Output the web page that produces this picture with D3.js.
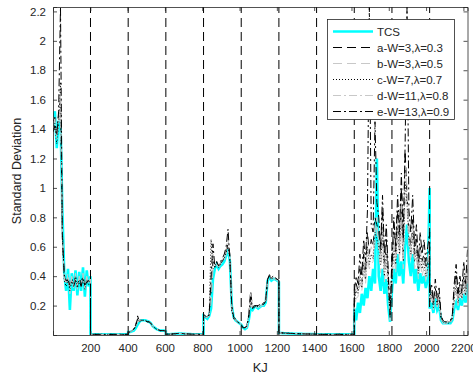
<!DOCTYPE html>
<html><head><meta charset="utf-8">
<script src="https://cdn.jsdelivr.net/npm/d3@7"></script>
<style>body{margin:0;background:#fff}svg{display:block}text{font-family:"Liberation Sans",Arial,Helvetica,sans-serif;fill:#262626}</style>
</head><body>
<svg id="c" width="473" height="378"></svg>
<script>
// segment boundaries on KJ axis (vertical dashed lines at inner ones)
const segBounds = [0,201,403,605,807,1009,1211,1413,1615,1817,2019,2222];
const xTicks = [200,400,600,800,1000,1200,1400,1600,1800,2000,2200];
const yTicks = [0.2,0.4,0.6,0.8,1.0,1.2,1.4,1.6,1.8,2.0,2.2];
const seriesNames = ["TCS","a-W=3,\u03bb=0.3","b-W=3,\u03bb=0.5","c-W=7,\u03bb=0.7","d-W=11,\u03bb=0.8","e-W=13,\u03bb=0.9"];

// 21 samples per segment, 11 segments
const tcs = [
1.48,1.52,1.27,1.45,1.45,0.85,0.42,0.30,0.45,0.17,0.42,0.30,0.44,0.27,0.43,0.30,0.46,0.26,0.44,0.33,0.40,
0.005,0.004,0.004,0.005,0.004,0.004,0.004,0.005,0.004,0.004,0.004,0.004,0.005,0.004,0.004,0.004,0.004,0.005,0.004,0.004,0.004,
0.02,0.02,0.025,0.03,0.045,0.07,0.09,0.10,0.10,0.10,0.095,0.09,0.08,0.06,0.05,0.04,0.035,0.03,0.03,0.03,0.025,
0.006,0.005,0.005,0.006,0.007,0.008,0.009,0.010,0.010,0.009,0.008,0.007,0.006,0.006,0.005,0.005,0.005,0.004,0.004,0.004,0.004,
0.13,0.12,0.11,0.13,0.18,0.38,0.45,0.48,0.45,0.47,0.48,0.50,0.54,0.58,0.50,0.20,0.12,0.10,0.09,0.08,0.07,
0.07,0.05,0.04,0.05,0.10,0.18,0.17,0.19,0.19,0.18,0.19,0.20,0.20,0.22,0.37,0.39,0.37,0.38,0.38,0.37,0.36,
0.015,0.014,0.013,0.012,0.012,0.011,0.010,0.010,0.009,0.009,0.008,0.008,0.008,0.007,0.007,0.007,0.006,0.006,0.006,0.006,0.005,
0.005,0.005,0.005,0.004,0.004,0.005,0.004,0.004,0.004,0.004,0.005,0.004,0.004,0.004,0.004,0.004,0.004,0.005,0.004,0.004,0.004,
0.18,0.10,0.22,0.15,0.28,0.20,0.32,0.25,0.40,0.30,0.45,0.35,1.20,0.40,0.30,0.45,0.28,0.38,0.20,0.09,0.30,
0.30,0.45,0.35,0.55,0.40,0.50,0.35,0.60,0.75,0.50,0.40,0.55,0.35,0.45,0.30,0.42,0.35,0.40,0.32,0.38,1.00,
0.18,0.22,0.15,0.25,0.17,0.20,0.10,0.08,0.08,0.08,0.08,0.08,0.10,0.18,0.22,0.17,0.25,0.20,0.28,0.22,0.35];

const serA = [
1.45,1.48,1.35,1.50,1.60,0.70,0.40,0.36,0.40,0.32,0.38,0.34,0.40,0.33,0.39,0.35,0.41,0.33,0.38,0.36,0.38,
0.005,0.005,0.004,0.004,0.005,0.004,0.004,0.004,0.005,0.004,0.004,0.004,0.004,0.005,0.004,0.004,0.004,0.004,0.004,0.005,0.004,
0.02,0.02,0.03,0.04,0.06,0.13,0.09,0.10,0.10,0.10,0.09,0.09,0.08,0.06,0.05,0.04,0.035,0.03,0.03,0.03,0.025,
0.006,0.006,0.005,0.006,0.008,0.009,0.009,0.010,0.011,0.010,0.008,0.007,0.007,0.006,0.005,0.005,0.005,0.005,0.004,0.004,0.004,
0.13,0.12,0.12,0.14,0.30,0.50,0.48,0.47,0.46,0.49,0.50,0.53,0.57,0.62,0.55,0.18,0.11,0.10,0.09,0.08,0.07,
0.07,0.05,0.05,0.06,0.14,0.30,0.18,0.19,0.20,0.19,0.20,0.20,0.21,0.23,0.38,0.41,0.38,0.39,0.38,0.38,0.37,
0.015,0.014,0.013,0.013,0.012,0.011,0.011,0.010,0.010,0.009,0.009,0.008,0.008,0.008,0.007,0.007,0.007,0.006,0.006,0.006,0.005,
0.005,0.004,0.005,0.004,0.004,0.004,0.005,0.004,0.004,0.004,0.004,0.005,0.004,0.004,0.004,0.004,0.005,0.004,0.004,0.004,0.004,
0.25,0.35,0.30,0.45,0.35,0.55,0.42,0.70,0.55,0.65,0.60,0.80,0.75,0.70,0.55,0.85,0.45,0.65,0.40,0.15,0.45,
0.40,0.70,0.55,0.85,0.60,1.00,0.55,1.25,0.95,0.70,0.60,0.80,0.55,0.65,0.45,0.60,0.50,0.55,0.45,0.50,0.60,
0.25,0.30,0.20,0.32,0.22,0.28,0.12,0.09,0.08,0.08,0.09,0.09,0.12,0.30,0.42,0.25,0.35,0.28,0.40,0.30,0.45];

const serB = [
1.42,1.46,1.38,1.42,1.55,0.65,0.38,0.34,0.42,0.28,0.40,0.32,0.42,0.31,0.40,0.33,0.42,0.31,0.40,0.35,0.39,
0.005,0.004,0.005,0.004,0.004,0.005,0.004,0.004,0.004,0.005,0.004,0.004,0.004,0.004,0.005,0.004,0.004,0.004,0.005,0.004,0.004,
0.02,0.02,0.028,0.035,0.05,0.09,0.095,0.10,0.10,0.10,0.095,0.09,0.08,0.06,0.05,0.04,0.035,0.03,0.03,0.03,0.025,
0.006,0.005,0.006,0.006,0.007,0.008,0.010,0.010,0.010,0.009,0.008,0.007,0.006,0.006,0.005,0.005,0.005,0.004,0.004,0.004,0.004,
0.13,0.12,0.12,0.13,0.22,0.44,0.47,0.48,0.46,0.48,0.49,0.51,0.55,0.59,0.52,0.18,0.12,0.10,0.09,0.08,0.07,
0.07,0.05,0.05,0.05,0.12,0.24,0.18,0.19,0.19,0.19,0.19,0.20,0.20,0.22,0.37,0.40,0.38,0.38,0.38,0.37,0.36,
0.015,0.014,0.013,0.012,0.012,0.011,0.010,0.010,0.009,0.009,0.008,0.008,0.008,0.007,0.007,0.007,0.006,0.006,0.006,0.006,0.005,
0.005,0.005,0.004,0.004,0.005,0.004,0.004,0.004,0.005,0.004,0.004,0.004,0.004,0.005,0.004,0.004,0.004,0.004,0.005,0.004,0.004,
0.20,0.25,0.26,0.35,0.30,0.42,0.35,0.52,0.45,0.48,0.50,0.62,0.80,0.55,0.42,0.62,0.36,0.48,0.30,0.10,0.36,
0.34,0.55,0.42,0.68,0.50,0.75,0.45,0.92,0.85,0.60,0.50,0.65,0.45,0.52,0.38,0.50,0.40,0.46,0.36,0.42,0.80,
0.20,0.26,0.17,0.28,0.19,0.23,0.11,0.08,0.08,0.08,0.08,0.08,0.11,0.22,0.30,0.20,0.29,0.23,0.33,0.25,0.40];

const serC = [
1.40,1.44,1.30,1.42,1.72,0.68,0.37,0.33,0.38,0.30,0.37,0.35,0.38,0.32,0.36,0.34,0.39,0.31,0.37,0.34,0.37,
0.005,0.004,0.004,0.005,0.004,0.004,0.005,0.004,0.004,0.004,0.005,0.004,0.004,0.004,0.004,0.005,0.004,0.004,0.004,0.004,0.004,
0.02,0.02,0.03,0.04,0.06,0.10,0.10,0.10,0.10,0.10,0.09,0.09,0.08,0.06,0.05,0.04,0.035,0.03,0.03,0.03,0.025,
0.006,0.006,0.005,0.006,0.007,0.009,0.010,0.010,0.010,0.009,0.008,0.007,0.007,0.006,0.005,0.005,0.005,0.004,0.004,0.004,0.004,
0.13,0.12,0.13,0.13,0.65,0.45,0.47,0.49,0.46,0.48,0.51,0.52,0.56,0.60,0.52,0.16,0.12,0.10,0.09,0.08,0.07,
0.07,0.05,0.05,0.06,0.13,0.22,0.19,0.19,0.20,0.19,0.20,0.21,0.21,0.23,0.38,0.40,0.38,0.39,0.39,0.38,0.37,
0.015,0.014,0.014,0.013,0.012,0.012,0.011,0.010,0.010,0.009,0.009,0.008,0.008,0.008,0.007,0.007,0.006,0.006,0.006,0.006,0.005,
0.005,0.004,0.004,0.005,0.004,0.004,0.004,0.005,0.004,0.004,0.004,0.004,0.005,0.004,0.004,0.004,0.004,0.004,0.005,0.004,0.004,
0.22,0.30,0.28,0.40,0.32,0.50,0.38,0.60,0.48,0.55,0.52,0.70,0.65,0.60,0.48,0.70,0.40,0.55,0.35,0.12,0.40,
0.38,0.60,0.48,0.75,0.55,0.85,0.50,1.05,0.90,0.65,0.55,0.70,0.50,0.58,0.42,0.55,0.45,0.50,0.40,0.45,0.55,
0.22,0.28,0.18,0.30,0.20,0.25,0.11,0.09,0.08,0.08,0.08,0.09,0.11,0.25,0.35,0.22,0.30,0.25,0.35,0.27,0.40];

const serD = [
1.43,1.47,1.33,1.45,1.65,0.72,0.39,0.35,0.39,0.31,0.39,0.33,0.39,0.34,0.38,0.36,0.40,0.32,0.39,0.35,0.38,
0.005,0.005,0.004,0.004,0.004,0.005,0.004,0.004,0.004,0.004,0.005,0.004,0.004,0.004,0.005,0.004,0.004,0.004,0.004,0.005,0.004,
0.02,0.02,0.03,0.04,0.06,0.11,0.10,0.10,0.10,0.10,0.09,0.09,0.08,0.06,0.05,0.04,0.035,0.03,0.03,0.03,0.025,
0.006,0.006,0.005,0.006,0.008,0.009,0.010,0.010,0.011,0.010,0.008,0.007,0.007,0.006,0.005,0.005,0.005,0.004,0.004,0.004,0.004,
0.13,0.12,0.12,0.14,0.35,0.55,0.47,0.48,0.47,0.49,0.51,0.54,0.58,0.66,0.52,0.19,0.12,0.10,0.09,0.08,0.07,
0.07,0.05,0.05,0.06,0.13,0.28,0.19,0.20,0.20,0.20,0.20,0.21,0.22,0.24,0.38,0.40,0.39,0.39,0.39,0.38,0.37,
0.015,0.014,0.013,0.013,0.012,0.011,0.011,0.010,0.010,0.009,0.009,0.008,0.008,0.008,0.007,0.007,0.007,0.006,0.006,0.006,0.005,
0.005,0.004,0.004,0.004,0.005,0.004,0.004,0.004,0.004,0.005,0.004,0.004,0.004,0.004,0.004,0.005,0.004,0.004,0.004,0.004,0.004,
0.24,0.32,0.30,0.42,0.34,0.52,0.40,0.65,0.52,0.60,0.56,0.75,0.70,0.65,0.50,0.78,0.42,0.60,0.38,0.13,0.42,
0.40,0.65,0.52,0.80,0.58,0.92,0.52,1.15,1.00,0.68,0.58,0.75,0.52,0.62,0.44,0.58,0.48,0.52,0.42,0.48,0.65,
0.24,0.30,0.19,0.31,0.21,0.26,0.12,0.09,0.08,0.08,0.09,0.09,0.12,0.28,0.38,0.24,0.33,0.27,0.38,0.29,0.48];

const serE = [
1.38,1.42,1.36,1.52,2.23,0.66,0.41,0.37,0.37,0.34,0.36,0.33,0.37,0.35,0.37,0.33,0.38,0.34,0.36,0.37,0.36,
0.005,0.004,0.005,0.004,0.004,0.004,0.005,0.004,0.004,0.004,0.004,0.005,0.004,0.004,0.004,0.004,0.005,0.004,0.004,0.004,0.004,
0.02,0.02,0.03,0.04,0.07,0.11,0.10,0.10,0.10,0.10,0.09,0.09,0.08,0.06,0.05,0.04,0.035,0.03,0.03,0.03,0.025,
0.006,0.006,0.006,0.006,0.008,0.009,0.010,0.011,0.011,0.010,0.009,0.008,0.007,0.006,0.006,0.005,0.005,0.005,0.004,0.004,0.004,
0.14,0.13,0.12,0.14,0.40,0.62,0.46,0.50,0.47,0.50,0.52,0.55,0.60,0.72,0.50,0.20,0.12,0.11,0.09,0.08,0.07,
0.07,0.05,0.05,0.06,0.12,0.26,0.19,0.20,0.20,0.20,0.21,0.21,0.22,0.24,0.38,0.40,0.39,0.40,0.39,0.38,0.37,
0.015,0.015,0.014,0.013,0.012,0.012,0.011,0.011,0.010,0.010,0.009,0.009,0.008,0.008,0.007,0.007,0.007,0.006,0.006,0.006,0.005,
0.005,0.005,0.004,0.004,0.004,0.005,0.004,0.004,0.004,0.004,0.004,0.004,0.005,0.004,0.004,0.004,0.004,0.004,0.004,0.005,0.004,
0.30,0.40,0.35,0.55,0.40,0.65,0.50,0.85,2.23,0.75,0.70,1.45,0.90,0.80,0.60,0.95,0.55,0.75,0.45,0.12,0.55,
0.50,0.80,0.60,0.95,0.70,1.10,0.65,1.30,2.23,0.85,0.70,0.95,0.60,0.75,0.50,0.70,0.55,0.65,0.50,0.60,0.70,
0.28,0.35,0.22,0.38,0.25,0.32,0.14,0.10,0.09,0.09,0.10,0.10,0.14,0.35,0.48,0.28,0.40,0.30,0.50,0.35,0.58];

// sample positions: 21 evenly spaced samples within each segment
const xs = [];
for (let k = 0; k < segBounds.length - 1; k++) {
  for (let i = 0; i <= 20; i++) xs.push(segBounds[k] + i * (segBounds[k+1] - segBounds[k]) / 20);
}

const L = 53, R = 467.5, T = 7, B = 335;
const x = d3.scaleLinear().domain([0, 2222]).range([L, R]);
const y = d3.scaleLinear().domain([0, 2.23]).range([B, T]);
const svg = d3.select("#c");
const axisCol = "#262626";

const styles = [
  {data: tcs,  color: "#00ffff", w: 2.6, dash: null},
  {data: serA, color: "#000000", w: 1,   dash: "9,5"},
  {data: serB, color: "#c8c8c8", w: 1,   dash: "9,5"},
  {data: serC, color: "#000000", w: 1,   dash: "1,2"},
  {data: serD, color: "#c8c8c8", w: 1,   dash: "8,3,2,3"},
  {data: serE, color: "#000000", w: 1,   dash: "8,3,2,3"}
];

svg.append("defs").append("clipPath").attr("id","clip")
  .append("rect").attr("x",L).attr("y",T).attr("width",R-L).attr("height",B-T);

const g = svg.append("g").attr("clip-path","url(#clip)");
const line = d3.line().x((d,i)=>x(xs[i])).y(d=>y(d));
styles.forEach(s => {
  g.append("path").attr("d", line(s.data)).attr("fill","none")
    .attr("stroke", s.color).attr("stroke-width", s.w)
    .attr("stroke-dasharray", s.dash).attr("stroke-linejoin","miter");
});

// vertical segment separators
g.selectAll("line.sep").data(segBounds.slice(1, -1)).enter().append("line")
  .attr("x1", d=>x(d)).attr("x2", d=>x(d)).attr("y1", B).attr("y2", T)
  .attr("stroke","#000").attr("stroke-width",1).attr("stroke-dasharray","9,5");

// axes
const fmt = v => String(+v.toFixed(1));
const ax = svg.append("g");
const xb = d3.axisBottom(x).tickValues(xTicks).tickSize(-4).tickPadding(9).tickFormat(d3.format("d"));
const xt = d3.axisTop(x).tickValues(xTicks).tickSize(-4).tickFormat("");
const yl = d3.axisLeft(y).tickValues(yTicks).tickSize(-4).tickPadding(7).tickFormat(fmt);
const yr = d3.axisRight(y).tickValues(yTicks).tickSize(-4).tickFormat("");
[[xb,`translate(0,${B})`],[xt,`translate(0,${T})`],[yl,`translate(${L},0)`],[yr,`translate(${R},0)`]].forEach(([a,t])=>{
  const gg = ax.append("g").attr("transform",t).call(a);
  gg.select(".domain").attr("stroke",axisCol).attr("stroke-width",0.8);
  gg.selectAll(".tick line").attr("stroke",axisCol).attr("stroke-width",0.8);
  gg.selectAll(".tick text").attr("fill",axisCol).style("font-size","11.5px")
    .style("font-family",'"Liberation Sans",Arial,sans-serif');
});

svg.append("text").attr("x",(L+R)/2).attr("y",372).attr("text-anchor","middle")
  .style("font-size","13px").text("KJ");
svg.append("text").attr("transform",`translate(21,${(T+B)/2}) rotate(-90)`).attr("text-anchor","middle")
  .style("font-size","12.5px").text("Standard Deviation");

// legend
const lg = svg.append("g");
lg.append("rect").attr("x",327.5).attr("y",19.5).attr("width",127).attr("height",100)
  .attr("fill","#fff").attr("stroke",axisCol).attr("stroke-width",0.8);
seriesNames.forEach((n,i)=>{
  const yy = 31.5 + i*16;
  const s = styles[i];
  lg.append("line").attr("x1",333).attr("x2",373).attr("y1",yy).attr("y2",yy)
    .attr("stroke",s.color).attr("stroke-width",s.w).attr("stroke-dasharray",s.dash);
  lg.append("text").attr("x",377).attr("y",yy+4).style("font-size","11.5px").text(n);
});
</script>
</body></html>
